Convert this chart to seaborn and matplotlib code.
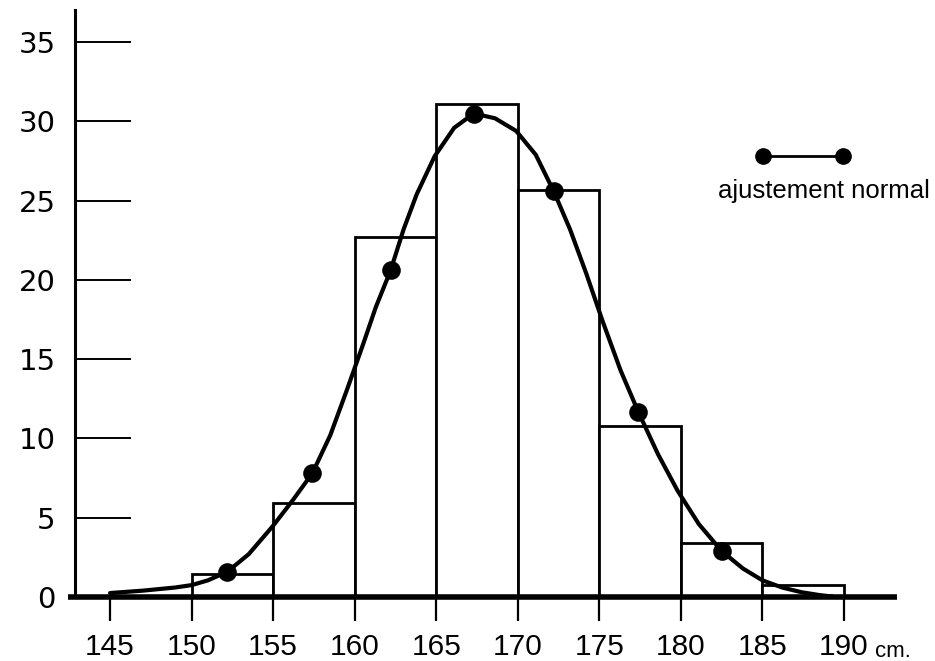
import numpy as np
import pandas as pd
import matplotlib
matplotlib.use("Agg")
import matplotlib.pyplot as plt
import seaborn as sns
from matplotlib import font_manager

# ---- data ----
bin_edges = [150, 155, 160, 165, 170, 175, 180, 185, 190]
bar_heights = [1.45, 5.95, 22.7, 31.1, 25.7, 10.8, 3.4, 0.75]

dot_x = [152.2, 157.4, 162.2, 167.3, 172.2, 177.4, 182.5]
dot_y = [1.6, 7.8, 20.6, 30.5, 25.6, 11.65, 2.9]

curve_x = [145.0, 147.0, 149.0, 150.0, 151.0, 152.2, 153.5, 155.0, 156.2, 157.4,
           158.5, 159.5, 160.5, 161.3, 162.2, 163.0, 163.8, 164.9, 166.1, 167.3,
           168.6, 169.9, 171.1, 172.2, 173.2, 174.2, 175.2, 176.3, 177.4, 178.6,
           179.8, 181.1, 182.5, 183.8, 185.0, 186.2, 187.4, 188.5, 189.3]
curve_y = [0.25, 0.4, 0.6, 0.75, 1.05, 1.6, 2.7, 4.5, 6.1, 7.8,
           10.2, 13.0, 15.9, 18.3, 20.6, 23.2, 25.4, 27.8, 29.6, 30.5,
           30.2, 29.4, 27.9, 25.6, 23.2, 20.4, 17.4, 14.3, 11.65, 9.0,
           6.7, 4.6, 2.9, 1.8, 1.05, 0.6, 0.3, 0.12, 0.03]

x_ticks = [145, 150, 155, 160, 165, 170, 175, 180, 185, 190]
y_ticks = [0, 5, 10, 15, 20, 25, 30, 35]
legend_label = "ajustement normal"
unit_label = "cm."

# ---- fonts ----
sns.set_theme(style="white")
available = {f.name for f in font_manager.fontManager.ttflist}
if "Liberation Sans Narrow" in available:
    narrow, leg_size, tick_size = "Liberation Sans Narrow", 21, 21.5
else:
    narrow, leg_size, tick_size = "Liberation Sans", 18.5, 21.5
plt.rcParams["font.family"] = ["DejaVu Sans"]

fig = plt.figure(figsize=(9.35, 6.61), dpi=100)
ax = fig.add_axes([75 / 935, 64 / 661, 822 / 935, 587 / 661])

bars = pd.DataFrame({
    "mid": [(a + b) / 2 for a, b in zip(bin_edges[:-1], bin_edges[1:])],
    "h": bar_heights,
})
sns.histplot(data=bars, x="mid", weights="h", bins=bin_edges, stat="count",
             color="white", edgecolor="black", linewidth=2.0, alpha=1.0,
             ax=ax, zorder=2)

curve = pd.DataFrame({"x": curve_x, "y": curve_y})
sns.lineplot(data=curve, x="x", y="y", sort=False, estimator=None,
             color="black", linewidth=3.0, ax=ax, zorder=3,
             solid_joinstyle="round", solid_capstyle="round")

dots = pd.DataFrame({"x": dot_x, "y": dot_y})
sns.scatterplot(data=dots, x="x", y="y", s=180, color="black",
                edgecolor="black", linewidth=0, ax=ax, zorder=4)

ax.set_xlim(142.85, 193.25)
ax.set_ylim(0, 37.03)
ax.set_xlabel("")
ax.set_ylabel("")

ax.set_xticks(x_ticks)
ax.set_xticklabels([str(v) for v in x_ticks], fontfamily=narrow, fontsize=tick_size)
ax.set_yticks(y_ticks)
ax.set_yticklabels([str(v) for v in y_ticks], fontsize=21)

ax.tick_params(axis="y", direction="in", length=40, width=1.4, pad=14,
               color="black", labelcolor="black", left=True)
ax.tick_params(axis="x", direction="out", length=17, width=1.6, pad=9,
               color="black", labelcolor="black", bottom=True)

for side in ["top", "right", "bottom"]:
    ax.spines[side].set_visible(False)
ax.spines["left"].set_linewidth(2.2)
ax.spines["left"].set_color("black")

# thick baseline
ax.plot([142.42, 193.25], [0, 0], color="black", lw=4, clip_on=False,
        solid_capstyle="butt", zorder=5)

# unit after last tick label
ax.annotate(unit_label, xy=(190, 0), xycoords="data", xytext=(22, -43),
            textcoords="offset points", ha="left", va="baseline",
            fontfamily=narrow, fontsize=16, color="black", annotation_clip=False)

# legend drawn manually
ax.plot([0.837, 0.934], [0.751, 0.751], transform=ax.transAxes, color="black",
        lw=2.0, marker="o", markersize=11, clip_on=False)
ax.text(0.9106, 0.680, legend_label, transform=ax.transAxes, ha="center",
        va="baseline", fontfamily=narrow, fontsize=leg_size, color="black")

fig.savefig("out.png", dpi=100)
